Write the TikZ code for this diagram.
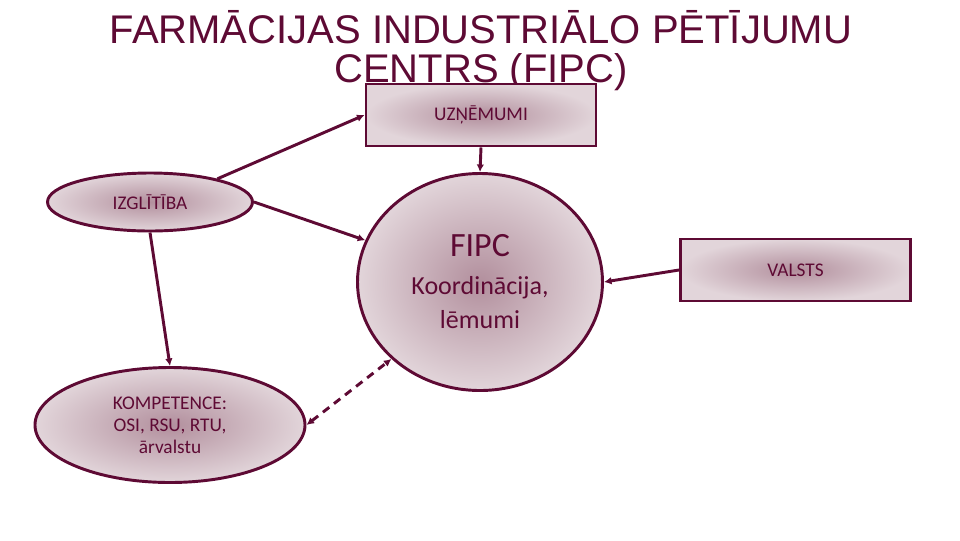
\documentclass[tikz,border=0pt]{standalone}
\usepackage{fontspec}
\setmainfont{Carlito}
\newfontfamily\headfont{Liberation Sans}
\usepackage{tikz}
\usetikzlibrary{arrows.meta,positioning,shapes.geometric}
\definecolor{wine}{RGB}{94,10,52}
\definecolor{mauve}{RGB}{178,143,157}
\definecolor{blush}{RGB}{226,213,218}

\begin{document}
\begin{tikzpicture}[
    x=0.75pt, y=-0.75pt,
    font=\fontsize{14.5}{16.5}\selectfont,
    text=wine,
    box/.style={draw=wine, line width=2.2pt, inner sep=0pt, align=center,
        inner color=mauve, outer color=blush,
        minimum width=172.5pt, minimum height=46.5pt},
    oval/.style={box, ellipse},
    link/.style={draw=wine, line width=2.2pt, -{Latex[length=2mm,width=2mm]}},
    title/.style={font=\headfont\fontsize{30}{29.25}\selectfont, align=center}
]
\useasboundingbox (0,0) rectangle (960,540);
\node[title, anchor=base] (head) at (481,82) {FARMĀCIJAS INDUSTRIĀLO PĒTĪJUMU\\CENTRS (FIPC)};
\node[box] (uzn) at (481,115) {UZŅĒMUMI};
\node[box] (valsts) at (795.5,270) {VALSTS};
\node[oval, minimum width=153.75pt, minimum height=43.5pt] (izg) at (150,202) {IZGLĪTĪBA};
\node[oval, minimum width=202.5pt, minimum height=86.25pt] (komp) at (170,425)
    {KOMPETENCE:\\OSI, RSU, RTU,\\ārvalstu};
\node[oval, minimum width=183.75pt, minimum height=162.75pt,
    font=\fontsize{19.5}{25.5}\selectfont] (fipc) at (480,282)
    {{\fontsize{25.5}{28.5}\selectfont FIPC}\\[3pt]Koordinācija,\\lēmumi};
\draw[link] (izg.19) -- (uzn.west);
\draw[link] (uzn.south) -- (fipc.north);
\draw[link] (izg.east) -- (fipc.160);
\draw[link] (izg.south) -- (komp.north);
\draw[link] (valsts.west) -- (fipc.east);
\draw[link, {Latex[length=2mm,width=2mm]}-{Latex[length=2mm,width=2mm]},
    dash pattern=on 6pt off 4.5pt] (komp.east) -- (fipc.221);
\end{tikzpicture}
\end{document}
